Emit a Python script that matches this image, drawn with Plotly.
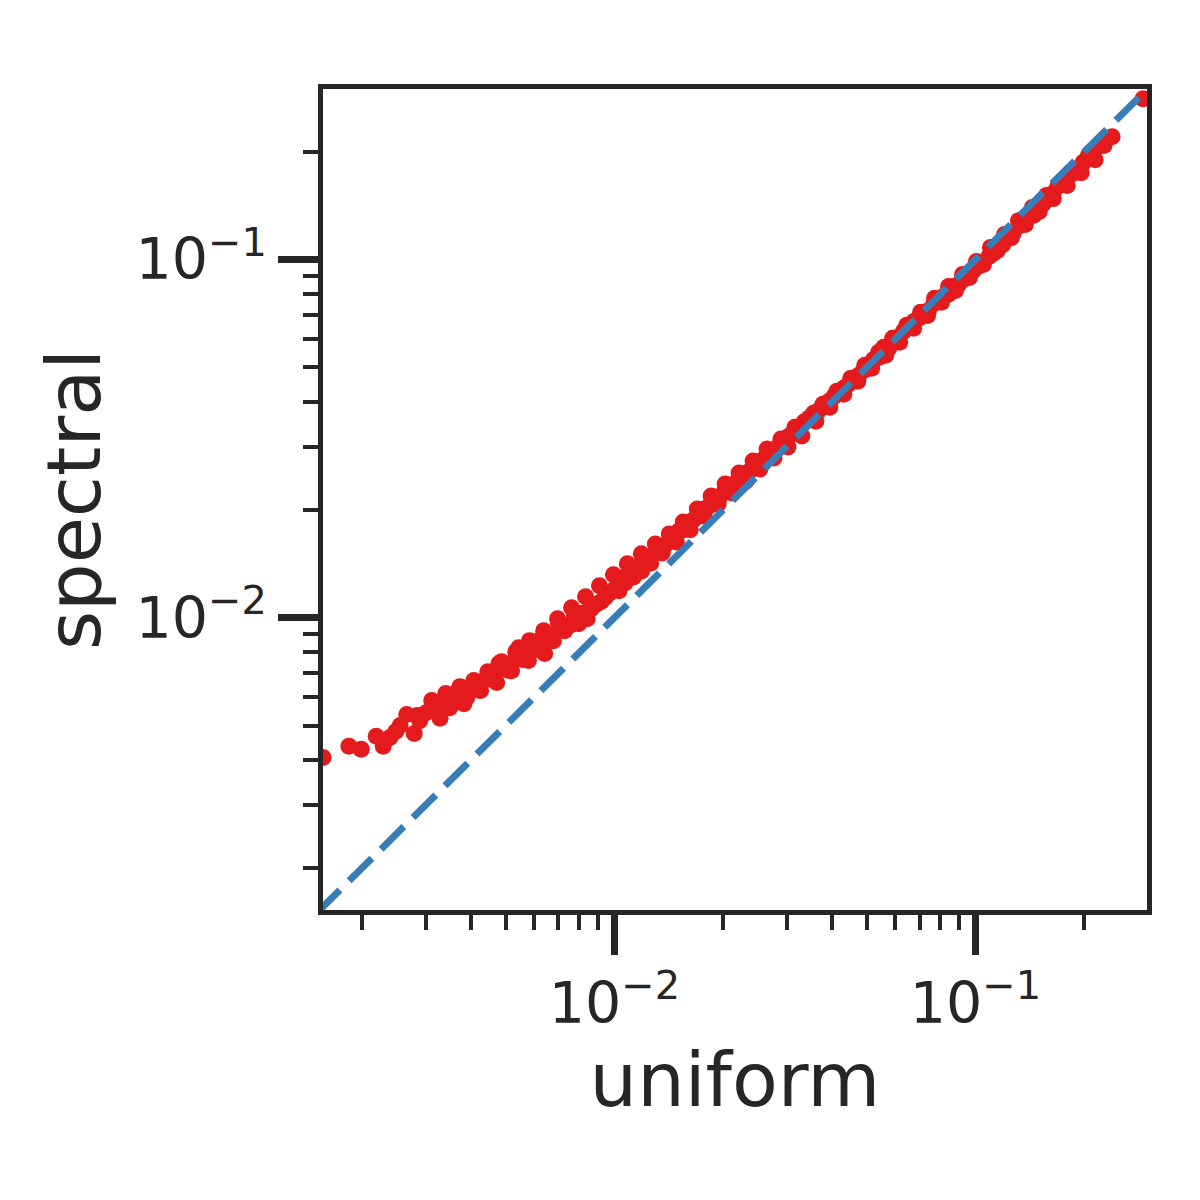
import plotly.graph_objects as go

# quantiles (uniform vs spectral), centre of the band
uniform = [
    1.56e-3, 1.84e-3, 1.99e-3, 2.19e-3, 2.29e-3, 2.39e-3, 2.48e-3, 2.55e-3, 2.66e-3, 2.79e-3,
    2.84e-3, 2.89e-3, 3.01e-3, 3.12e-3, 3.29e-3, 3.39e-3, 3.50e-3, 3.59e-3, 3.78e-3, 3.83e-3,
    4.03e-3, 4.21e-3, 4.35e-3, 4.49e-3, 4.63e-3, 4.72e-3, 4.79e-3, 4.97e-3, 5.19e-3, 5.33e-3,
    5.43e-3, 5.61e-3, 5.78e-3, 5.97e-3, 6.17e-3, 6.41e-3, 6.58e-3, 6.78e-3, 7.00e-3, 7.28e-3,
    7.52e-3, 7.71e-3, 7.96e-3, 8.20e-3, 8.41e-3, 8.63e-3, 8.91e-3, 9.20e-3, 9.44e-3, 9.68e-3,
    1.00e-2, 1.03e-2, 1.04e-2, 1.07e-2, 1.10e-2, 1.13e-2, 1.16e-2, 1.19e-2, 1.23e-2, 1.26e-2,
    1.30e-2, 1.34e-2, 1.38e-2, 1.42e-2, 1.47e-2, 1.51e-2, 1.56e-2, 1.61e-2, 1.66e-2, 1.72e-2,
    1.77e-2, 1.83e-2, 1.89e-2, 1.95e-2, 2.01e-2, 2.08e-2, 2.14e-2, 2.21e-2, 2.29e-2, 2.36e-2,
    2.44e-2, 2.52e-2, 2.59e-2, 2.68e-2, 2.77e-2, 2.86e-2, 2.95e-2, 3.04e-2, 3.14e-2, 3.24e-2,
    3.35e-2, 3.46e-2, 3.56e-2, 3.68e-2, 3.80e-2, 3.93e-2, 4.06e-2, 4.19e-2, 4.32e-2, 4.46e-2,
    4.61e-2, 4.75e-2, 4.91e-2, 5.06e-2, 5.22e-2, 5.40e-2, 5.57e-2, 5.75e-2, 5.93e-2, 6.12e-2,
    6.32e-2, 6.53e-2, 6.75e-2, 6.97e-2, 7.18e-2, 7.41e-2, 7.66e-2, 7.91e-2, 8.17e-2, 8.41e-2,
    8.69e-2, 8.97e-2, 9.27e-2, 9.57e-2, 9.86e-2, 1.02e-1, 1.05e-1, 1.09e-1, 1.12e-1, 1.16e-1,
    1.19e-1, 1.23e-1, 1.27e-1, 1.32e-1, 1.36e-1, 1.40e-1, 1.45e-1, 1.49e-1, 1.54e-1, 1.59e-1,
    1.64e-1, 1.69e-1, 1.75e-1, 1.81e-1, 1.87e-1, 1.93e-1, 1.99e-1, 2.08e-1, 2.19e-1, 2.27e-1,
    2.39e-1, 2.91e-1,
]
spectral = [
    4.07e-3, 4.38e-3, 4.29e-3, 4.67e-3, 4.38e-3, 4.63e-3, 4.81e-3, 5.00e-3, 5.37e-3, 4.75e-3,
    5.33e-3, 5.16e-3, 5.43e-3, 5.61e-3, 5.24e-3, 5.87e-3, 5.61e-3, 6.11e-3, 6.38e-3, 5.75e-3,
    6.38e-3, 6.27e-3, 6.68e-3, 6.98e-3, 6.81e-3, 6.59e-3, 7.45e-3, 7.21e-3, 7.11e-3, 7.69e-3,
    8.24e-3, 7.83e-3, 7.59e-3, 8.20e-3, 8.63e-3, 7.94e-3, 8.91e-3, 8.63e-3, 9.62e-3, 9.20e-3,
    9.51e-3, 9.93e-3, 9.62e-3, 1.03e-2, 9.93e-3, 1.06e-2, 1.09e-2, 1.11e-2, 1.14e-2, 1.17e-2,
    1.20e-2, 1.19e-2, 1.29e-2, 1.25e-2, 1.33e-2, 1.30e-2, 1.39e-2, 1.35e-2, 1.44e-2, 1.42e-2,
    1.52e-2, 1.55e-2, 1.59e-2, 1.64e-2, 1.67e-2, 1.75e-2, 1.76e-2, 1.84e-2, 1.88e-2, 1.94e-2,
    2.01e-2, 2.05e-2, 2.13e-2, 2.16e-2, 2.24e-2, 2.29e-2, 2.36e-2, 2.41e-2, 2.52e-2, 2.56e-2,
    2.64e-2, 2.70e-2, 2.77e-2, 2.88e-2, 2.92e-2, 3.03e-2, 3.09e-2, 3.21e-2, 3.30e-2, 3.38e-2,
    3.52e-2, 3.58e-2, 3.72e-2, 3.79e-2, 3.94e-2, 4.02e-2, 4.15e-2, 4.24e-2, 4.38e-2, 4.49e-2,
    4.63e-2, 4.75e-2, 4.91e-2, 5.07e-2, 5.26e-2, 5.33e-2, 5.69e-2, 5.65e-2, 6.03e-2, 6.07e-2,
    6.30e-2, 6.47e-2, 6.71e-2, 6.85e-2, 7.11e-2, 7.21e-2, 7.53e-2, 7.64e-2, 7.89e-2, 8.00e-2,
    8.41e-2, 8.51e-2, 8.79e-2, 8.97e-2, 9.31e-2, 9.57e-2, 9.82e-2, 1.02e-1, 1.04e-1, 1.09e-1,
    1.10e-1, 1.15e-1, 1.18e-1, 1.24e-1, 1.26e-1, 1.31e-1, 1.33e-1, 1.40e-1, 1.43e-1, 1.49e-1,
    1.53e-1, 1.60e-1, 1.64e-1, 1.71e-1, 1.74e-1, 1.80e-1, 1.87e-1, 1.96e-1, 2.07e-1, 2.08e-1,
    2.20e-1, 2.81e-1,
]

# points along the upper and lower edge of the band
uniform_edge = [
    3.12e-3, 3.27e-3, 3.41e-3, 3.57e-3, 3.73e-3, 3.90e-3, 4.08e-3, 4.26e-3, 4.46e-3, 4.66e-3,
    4.87e-3, 5.10e-3, 5.33e-3, 5.57e-3, 5.82e-3, 6.09e-3, 6.37e-3, 6.66e-3, 6.96e-3, 7.28e-3,
    7.61e-3, 7.96e-3, 8.32e-3, 8.70e-3, 9.09e-3, 9.50e-3, 9.94e-3, 1.039e-2, 1.086e-2, 1.136e-2,
    1.187e-2, 1.241e-2, 1.298e-2, 1.357e-2, 1.419e-2, 1.484e-2, 1.551e-2, 1.622e-2, 1.696e-2, 1.773e-2,
    1.853e-2, 1.938e-2, 2.026e-2, 2.118e-2, 2.214e-2, 2.316e-2, 2.421e-2, 2.531e-2, 2.647e-2, 2.767e-2,
    2.893e-2, 3.025e-2, 3.162e-2, 3.306e-2, 3.457e-2, 3.614e-2, 3.779e-2, 3.951e-2, 4.130e-2, 4.319e-2,
    4.515e-2, 4.721e-2, 4.936e-2, 5.160e-2, 5.395e-2, 5.641e-2, 5.897e-2, 6.167e-2, 6.448e-2, 6.741e-2,
    7.049e-2, 7.368e-2, 7.705e-2, 8.054e-2, 8.421e-2, 8.806e-2, 9.207e-2, 9.625e-2, 1.006e-1, 1.052e-1,
    1.100e-1, 1.150e-1, 1.203e-1, 1.257e-1, 1.315e-1, 1.374e-1, 1.437e-1, 1.502e-1, 1.571e-1, 1.642e-1,
    1.717e-1, 1.795e-1, 1.877e-1, 1.963e-1, 2.052e-1, 2.145e-1, 2.243e-1,
]
spectral_edge = [
    5.87e-3, 5.47e-3, 6.14e-3, 5.76e-3, 6.42e-3, 5.99e-3, 6.68e-3, 6.26e-3, 7.07e-3, 6.68e-3,
    7.54e-3, 7.12e-3, 8.04e-3, 7.64e-3, 8.63e-3, 8.15e-3, 9.20e-3, 8.74e-3, 9.94e-3, 9.38e-3,
    1.066e-2, 1.006e-2, 1.144e-2, 1.087e-2, 1.228e-2, 1.166e-2, 1.318e-2, 1.243e-2, 1.414e-2, 1.335e-2,
    1.508e-2, 1.423e-2, 1.607e-2, 1.517e-2, 1.714e-2, 1.628e-2, 1.851e-2, 1.759e-2, 2.012e-2, 1.924e-2,
    2.187e-2, 2.078e-2, 2.362e-2, 2.229e-2, 2.535e-2, 2.408e-2, 2.737e-2, 2.600e-2, 2.957e-2, 2.790e-2,
    3.152e-2, 2.995e-2, 3.404e-2, 3.214e-2, 3.607e-2, 3.538e-2, 3.946e-2, 3.870e-2, 4.288e-2, 4.207e-2,
    4.662e-2, 4.573e-2, 5.067e-2, 4.971e-2, 5.507e-2, 5.403e-2, 6.025e-2, 5.872e-2, 6.551e-2, 6.425e-2,
    7.120e-2, 6.982e-2, 7.790e-2, 7.592e-2, 8.410e-2, 8.199e-2, 9.082e-2, 8.910e-2, 9.87e-2, 9.68e-2,
    1.080e-1, 1.060e-1, 1.174e-1, 1.151e-1, 1.284e-1, 1.252e-1, 1.396e-1, 1.361e-1, 1.508e-1, 1.479e-1,
    1.639e-1, 1.608e-1, 1.781e-1, 1.747e-1, 1.949e-1, 1.900e-1, 2.118e-1,
]

# y = x reference line
diag = [1e-3, 0.5]

ink = "#262626"
red = "#e41a1c"
font = "DejaVu Sans"

fig = go.Figure()
fig.add_trace(go.Scatter(
    x=uniform_edge, y=spectral_edge, mode="markers",
    marker=dict(color=red, size=17, line=dict(width=0)),
))
fig.add_trace(go.Scatter(
    x=uniform, y=spectral, mode="markers",
    marker=dict(color=red, size=17, line=dict(width=0)),
))
# dashed diagonal sits on top of the points
fig.add_trace(go.Scatter(
    x=diag, y=diag, mode="lines",
    line=dict(color="#377eb8", width=7, dash="32px,13px"),
    hoverinfo="skip",
))

minor_vals = [m * 10.0 ** e for e in (-3, -2, -1) for m in range(2, 10)]

axis_common = dict(
    type="log",
    showgrid=False, zeroline=False,
    showline=True, mirror=True, linewidth=4.5, linecolor=ink,
    ticks="outside", ticklen=40, tickwidth=7, tickcolor=ink,
    tickmode="array", tickvals=[1e-2, 1e-1],
    ticktext=["10<sup>\u22122</sup>", "10<sup>\u22121</sup>"],
    tickfont=dict(family=font, size=57, color=ink),
    minor=dict(tickmode="array", tickvals=minor_vals, ticks="outside",
               ticklen=15, tickwidth=4, tickcolor=ink, showgrid=False),
)

fig.update_xaxes(
    range=[-2.807, -0.525],
    title=dict(text="uniform", font=dict(family=font, size=75, color=ink), standoff=12),
    **axis_common,
)
fig.update_yaxes(
    range=[-2.816, -0.524],
    title=dict(text="spectral", font=dict(family=font, size=75, color=ink), standoff=12),
    **axis_common,
)

# page body adds 8px, so the figure is drawn 8px smaller each side
fig.update_layout(
    width=1184, height=1184,
    margin=dict(l=315, r=45, t=81, b=282, autoexpand=False),
    paper_bgcolor="white", plot_bgcolor="white",
    showlegend=False,
    font=dict(family=font, color=ink),
)

fig.write_html("out.html")
